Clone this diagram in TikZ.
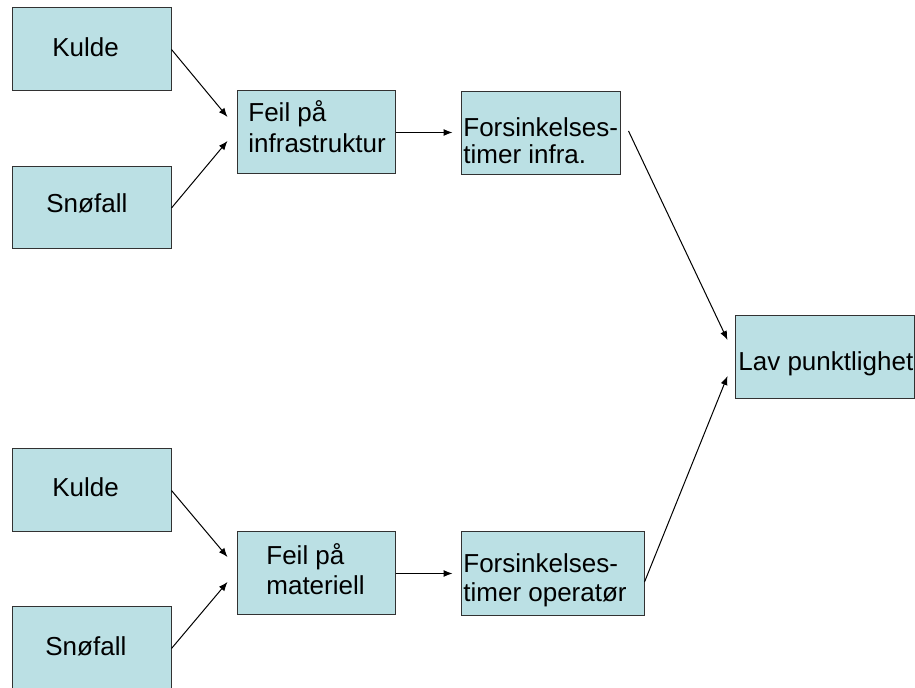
\documentclass[tikz,border=0pt]{standalone}
\usepackage{fontspec}
\setmainfont{Liberation Sans}
\usetikzlibrary{arrows.meta}
\definecolor{boxfill}{RGB}{187,224,228}
\definecolor{boxline}{RGB}{50,50,50}
\tikzset{
  box/.style={draw=boxline, fill=boxfill, line width=0.5pt, rectangle, inner sep=0pt},
  txt/.style={anchor=base west, inner sep=0pt, font=\fontsize{13}{15}\selectfont},
  arr/.style={-{Latex[length=4.5pt,width=3.5pt]}, line width=0.5pt, black},
}
\begin{document}
\begin{tikzpicture}[x=0.5pt,y=-0.5pt]
\useasboundingbox (0,0) rectangle (915,688);
\clip (0,0) rectangle (915,688);
% boxes
\node[box, minimum width=79.5pt, minimum height=41.5pt] (k1) at (91.5,49.5) {};
\node[box, minimum width=79.5pt, minimum height=41pt] (s1) at (91.5,208) {};
\node[box, minimum width=79pt, minimum height=41.5pt] (f1) at (316,132.5) {};
\node[box, minimum width=79.5pt, minimum height=41.5pt] (d1) at (540.5,133.5) {};
\node[box, minimum width=89.5pt, minimum height=41.5pt] (lav) at (824.5,357.5) {};
\node[box, minimum width=79.5pt, minimum height=41.5pt] (k2) at (91.5,490.5) {};
\node[box, minimum width=79.5pt, minimum height=41.5pt] (s2) at (91.5,648.5) {};
\node[box, minimum width=79pt, minimum height=41.5pt] (f2) at (316,573.5) {};
\node[box, minimum width=91.5pt, minimum height=42pt] (d2) at (552.5,574) {};
% texts
\node[txt] (tk1) at (52,56.5) {Kulde};
\node[txt] (ts1) at (46,213) {Snøfall};
\node[txt] (tf1a) at (248,122) {Feil på};
\node[txt] (tf1b) at (248,153) {infrastruktur};
\node[txt] (td1a) at (463,137) {Forsinkelses-};
\node[txt] (td1b) at (463,163.5) {timer infra.};
\node[txt] (tlav) at (738,371) {Lav punktlighet};
\node[txt] (tk2) at (52,497) {Kulde};
\node[txt] (ts2) at (45,655) {Snøfall};
\node[txt] (tf2a) at (266,565) {Feil på};
\node[txt] (tf2b) at (266,595) {materiell};
\node[txt] (td2a) at (463,573) {Forsinkelses-};
\node[txt] (td2b) at (463,602) {timer operatør};
% connectors
\draw[arr] (k1.east) -- ([shift={(-9,-15.5)}]f1.west);
\draw[arr] (s1.east) -- ([shift={(-9,8.5)}]f1.west);
\draw[arr] (f1.east) -- ([shift={(-8,-1)}]d1.west);
\draw[arr] ([shift={(8,-2.5)}]d1.east) -- ([shift={(-7,-17.5)}]lav.west);
\draw[arr] (k2.east) -- ([shift={(-9,-16.5)}]f2.west);
\draw[arr] (s2.east) -- ([shift={(-9,8.5)}]f2.west);
\draw[arr] (f2.east) -- ([shift={(-8,-0.5)}]d2.west);
\draw[arr] ([shift={(0,8)}]d2.east) -- ([shift={(-7,18.5)}]lav.west);
\end{tikzpicture}
\end{document}
